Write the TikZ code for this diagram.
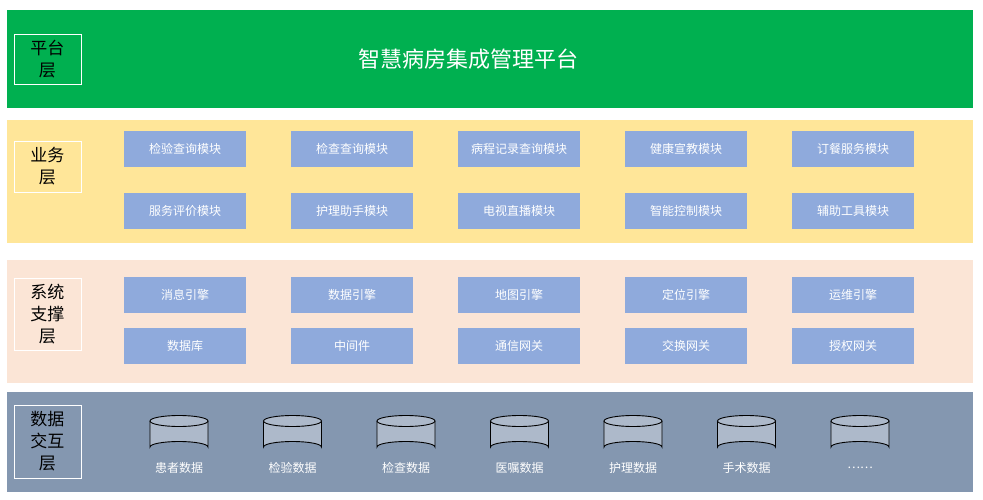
\documentclass[tikz,border=0pt]{standalone}
\usepackage{fontspec}
\setmainfont{Noto Sans CJK SC}
\definecolor{gr}{HTML}{00B050}
\definecolor{ye}{HTML}{FFE699}
\definecolor{pe}{HTML}{FBE5D6}
\definecolor{bg}{HTML}{8497B0}
\definecolor{md}{HTML}{8FAADC}
\definecolor{cy}{HTML}{ADB9CA}
\begin{document}
\begin{tikzpicture}[x=1pt,y=-1pt,
 lab/.style={draw=white,line width=0.8pt,minimum width=67pt,align=center,font=\fontsize{17}{22}\selectfont,inner sep=0},
 mod/.style={fill=md,minimum width=122pt,minimum height=36pt,text=white,font=\fontsize{12}{14}\selectfont,inner sep=0},
 dbs/.style={draw=black,line width=0.9pt,fill=cy},
 dl/.style={text=white,font=\fontsize{12}{14}\selectfont}]
\useasboundingbox (0,0) rectangle (983,500);
\fill[white] (0,0) rectangle (983,500);
\fill[gr] (7,10) rectangle (973,108);
\fill[ye] (7,120) rectangle (973,243);
\fill[pe] (7,260) rectangle (973,383);
\fill[bg] (7,392) rectangle (973,492);
\node[lab,minimum height=50pt,text=black] (l1) at (47.5,59) {平台\\层};
\node[lab,minimum height=51pt] (l2) at (47.5,166.5) {业务\\层};
\node[lab,minimum height=72pt] (l3) at (47.5,314.5) {系统\\支撑\\层};
\node[lab,minimum height=73pt] (l4) at (47.5,441.5) {数据\\交互\\层};
\node[text=white,font=\fontsize{22}{26}\selectfont] (t) at (468,59) {智慧病房集成管理平台};
\foreach \t [count=\i] in {检验查询模块,检查查询模块,病程记录查询模块,健康宣教模块,订餐服务模块}
  \node[mod] (a\i) at (18+167*\i,149) {\t};
\foreach \t [count=\i] in {服务评价模块,护理助手模块,电视直播模块,智能控制模块,辅助工具模块}
  \node[mod] (b\i) at (18+167*\i,211) {\t};
\foreach \t [count=\i] in {消息引擎,数据引擎,地图引擎,定位引擎,运维引擎}
  \node[mod] (c\i) at (18+167*\i,294.5) {\t};
\foreach \t [count=\i] in {数据库,中间件,通信网关,交换网关,授权网关}
  \node[mod] (d\i) at (18+167*\i,345.5) {\t};
\foreach \t [count=\i] in {患者数据,检验数据,检查数据,医嘱数据,护理数据,手术数据,{\ldots\ldots}}{
  \coordinate (e\i) at (65.5+113.5*\i,421);
  \draw[dbs] ([xshift=-29pt]e\i) -- ++(0,26) arc[start angle=180,end angle=360,x radius=29,y radius=5.5] -- ++(0,-26);
  \draw[dbs] (e\i) ellipse[x radius=29,y radius=5.5];
  \node[dl] (f\i) at (65.5+113.5*\i,468) {\t};}
\end{tikzpicture}
\end{document}
